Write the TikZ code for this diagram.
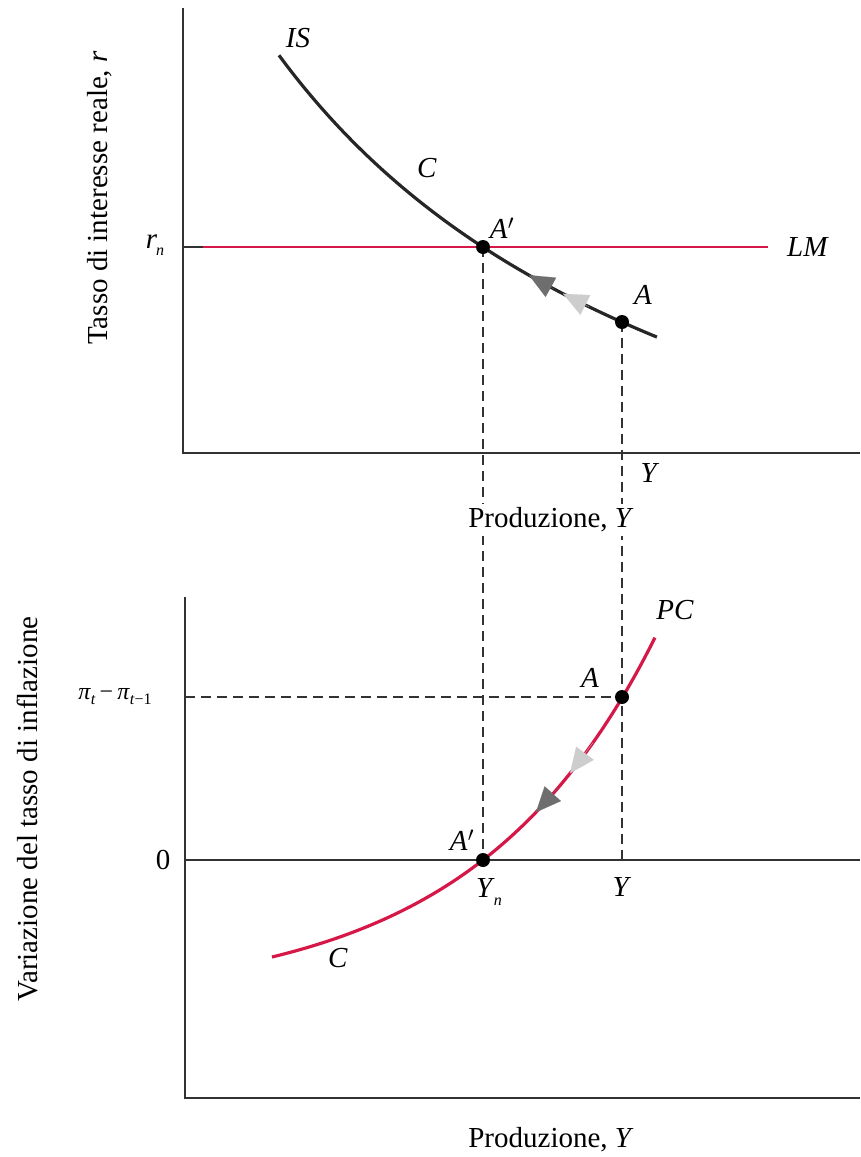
\documentclass[tikz,border=0pt]{standalone}
\usepackage{fontspec}
\setmainfont{Liberation Serif}
\usetikzlibrary{arrows.meta}
\definecolor{pcred}{RGB}{214,24,72}
\definecolor{axisgray}{RGB}{50,50,50}
\definecolor{darktri}{RGB}{110,110,110}
\definecolor{lighttri}{RGB}{205,205,205}
\tikzset{
  axisline/.style={draw=axisgray, line width=1.8pt},
  curveis/.style={draw=black!85, line width=3.2pt},
  curvepc/.style={draw=pcred, line width=3.2pt},
  lmline/.style={draw=pcred, line width=2.8pt},
  dashline/.style={draw=black!80, line width=1.6pt, dash pattern=on 10pt off 6pt},
  pt/.style={circle, fill=black, inner sep=0pt, minimum size=14pt},
  lbl/.style={inner sep=1pt},
  tri/.style={line width=0.1pt, -{Triangle[length=25pt,width=22pt]}},
}
\begin{document}
\begin{tikzpicture}[x=1pt,y=-1pt, font=\fontsize{29}{33}\selectfont]
\useasboundingbox (0,0) rectangle (860,1157);

% ---------- top panel ----------
\coordinate (TO) at (183,453);
\coordinate (Ttop) at (183,8);
\coordinate (Tright) at (860,453);
\draw[axisline] (Ttop) -- (TO) -- (Tright);

\coordinate (LMs) at (183,247);
\coordinate (LMe) at (768,247);
\draw[lmline] (LMs) -- (LMe);
\draw[draw=axisgray, line width=2.8pt] (183,247) -- (203,247);

\coordinate (Ap) at (483,247);
\coordinate (A) at (622,322);
\coordinate (Bp) at (483,860);
\coordinate (B) at (622,697);
\coordinate (Yb) at (622,860);

% dashed guides
\draw[dashline] (Ap) -- (Bp);
\draw[dashline] (A) -- (Yb);

% IS curve
\draw[curveis] plot[domain=2.79:6.57, samples=80, smooth] ({100*\x}, {680.9 - 2885.32/(\x+1.822)});

% arrows on IS
\draw[tri, draw=darktri, fill=darktri, color=darktri] (554,289.0) -- (529,275.2);
\draw[tri, draw=lighttri, fill=lighttri, color=lighttri] (589,306.8) -- (563,293.7);

\node[pt] (ApDot) at (Ap) {};
\node[pt] (ADot) at (A) {};

\node[lbl] (lIS) at (298,38) {\textit{IS}};
\node[lbl] (lC1) at (427,168) {\textit{C}};
\node[lbl] (lAp1) at (502,228) {\textit{A}$'$};
\node[lbl] (lA1) at (643,295) {\textit{A}};
\node[lbl] (lLM) at (808,247) {\textit{LM}};
\node[lbl] (lrn) at (155,245) {\textit{r}\kern-1pt\raisebox{-7pt}{\fontsize{16}{18}\selectfont\textit{n}}};
\node[lbl] (lY1) at (650,473) {\textit{Y}};
\node[lbl, fill=white, inner sep=4pt] (lP1) at (551,520) {Produzione, \textit{Y}};
\node[lbl, rotate=90] (lTy) at (100,198) {Tasso di interesse reale, \textit{r}};

% ---------- bottom panel ----------
\coordinate (BO) at (185,1098);
\coordinate (Btop) at (185,597);
\coordinate (Bright) at (860,1098);
\draw[axisline] (Btop) -- (BO) -- (Bright);
\coordinate (Z0) at (185,860);
\coordinate (Z1) at (860,860);
\draw[axisline] (Z0) -- (Z1);

\coordinate (Pi0) at (185,697);
\draw[dashline] (Pi0) -- (B);

% PC curve
\draw[curvepc] plot[domain=2.72:6.55, samples=80, smooth] ({100*\x}, {1001.25 - 9.913*exp(0.55*\x)});

% arrows on PC
\draw[tri, draw=lighttri, fill=lighttri, color=lighttri] (593,742.6) -- (570,773.3);
\draw[tri, draw=darktri, fill=darktri, color=darktri] (558,787.9) -- (536,812.2);

\node[pt] (BpDot) at (Bp) {};
\node[pt] (BDot) at (B) {};

\node[lbl] (lPC) at (675,610) {\textit{PC}};
\node[lbl] (lA2) at (590,678) {\textit{A}};
\node[lbl] (lAp2) at (462,840) {\textit{A}$'$};
\node[lbl] (lYn) at (489,892) {\textit{Y}\kern-1pt\raisebox{-8pt}{\fontsize{16}{18}\selectfont\textit{n}}};
\node[lbl] (lY2) at (622,887) {\textit{Y}};
\node[lbl] (lC2) at (338,958) {\textit{C}};
\node[lbl] (l0) at (163,860) {0};
\node[lbl] (lpi) at (115,697) {\fontsize{24}{28}\selectfont\textit{π}\raisebox{-5pt}{\fontsize{16}{18}\selectfont\textit{t}}\,−\,\textit{π}\raisebox{-5pt}{\fontsize{16}{18}\selectfont\textit{t}−1}};
\node[lbl] (lP2) at (551,1140) {Produzione, \textit{Y}};
\node[lbl, rotate=90] (lVy) at (28,809) {Variazione del tasso di inflazione};
\end{tikzpicture}
\end{document}
